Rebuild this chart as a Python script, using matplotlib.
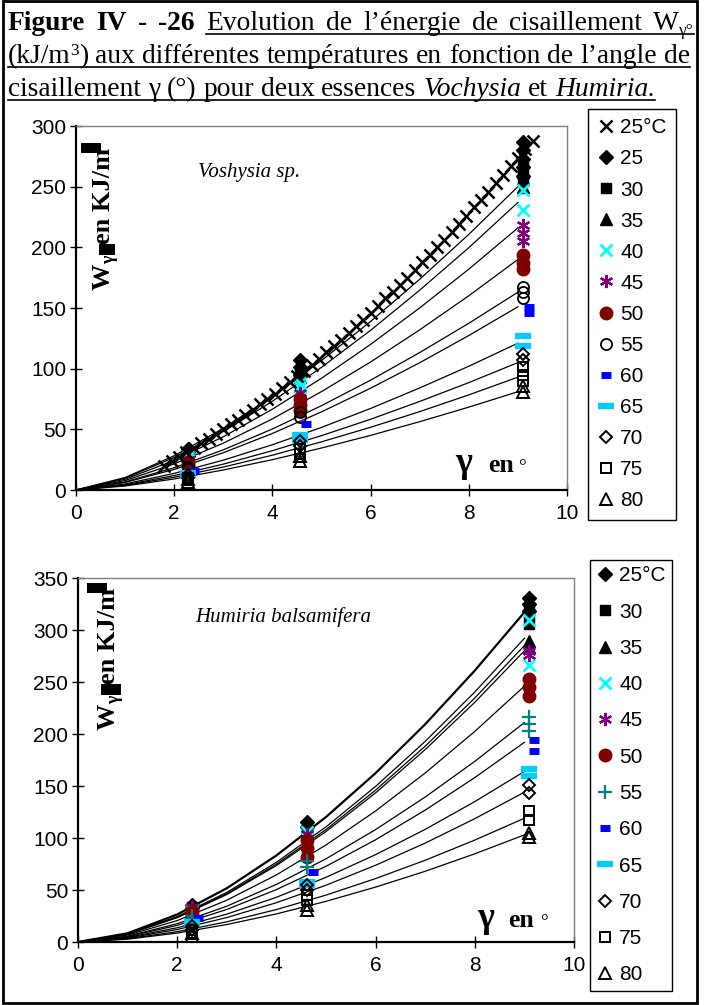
import matplotlib
matplotlib.use('Agg')
import matplotlib.pyplot as plt
from matplotlib.lines import Line2D
from matplotlib.patches import Rectangle

plt.rcParams['font.family'] = ['Liberation Sans', 'DejaVu Sans']
SERIF = ['Liberation Serif', 'DejaVu Serif']

W_PX, H_PX = 707, 1005

# ---------------- data ----------------
# Voshysia sp. : dense 25 C run drawn with x markers
vos_run_g = [1.8, 1.95, 2.1, 2.25, 2.4, 2.55, 2.7, 2.85, 3.0, 3.15,
             3.3, 3.45, 3.6, 3.75, 3.9, 4.05, 4.2, 4.35, 4.5, 4.65,
             4.8, 4.95, 5.1, 5.25, 5.4, 5.55, 5.7, 5.85, 6.0, 6.15,
             6.3, 6.45, 6.6, 6.75, 6.9, 7.05, 7.2, 7.35, 7.5, 7.65,
             7.8, 7.95, 8.1, 8.25, 8.4, 8.55, 8.7, 8.85, 9.0, 9.15, 9.3]
vos_run_w = [20, 24, 27, 31, 35, 39, 42, 46, 50, 54,
             58, 62, 66, 71, 75, 79, 84, 89, 94, 98,
             103, 108, 114, 119, 124, 129, 135, 140, 146, 152,
             158, 163, 169, 175, 181, 188, 194, 200, 206, 213,
             219, 226, 233, 239, 246, 253, 260, 267, 274, 281, 288]

# replicate points at the three shear angles (one list per angle)
vos_g = [2.28, 4.56, 9.1]
vos_g60 = [2.4, 4.68, 9.22]
vos_25 = [[34, 31, 28], [107, 101, 95], [287, 280, 273, 266, 259]]
vos_30 = [[30, 27], [97, 92], [268, 262, 255]]
vos_35 = [[29, 26], [98, 93], [262, 256, 250]]
vos_40 = [[27, 25], [88, 85], [247, 231]]
vos_45 = [[25, 23], [80, 76], [218, 212, 205]]
vos_50 = [[23, 21, 19], [75, 70, 66], [194, 187, 182]]
vos_55 = [[19, 17], [64, 60], [167, 163, 158]]
vos_60 = [[16], [54], [151, 146]]
vos_65 = [[14, 12], [45, 41], [127, 119]]
vos_70 = [[12, 10], [40, 36], [112, 107]]
vos_75 = [[10, 8], [34, 30], [101, 95, 90]]
vos_80 = [[9, 7], [28, 24], [86, 81]]

hum_g = [2.3, 4.62, 9.1]
hum_g60 = [2.42, 4.74, 9.2]
hum_25 = [[36, 33], [115, 111], [331, 325, 318]]
hum_30 = [[34, 31], [112, 107], [322, 314, 306]]
hum_35 = [[33, 30], [109, 104], [289, 284]]
hum_40 = [[31, 28], [106, 100], [310, 266]]
hum_45 = [[34, 30], [104, 99], [280, 276]]
hum_50 = [[30, 27, 24], [98, 90, 82], [253, 245, 237]]
hum_55 = [[25, 22], [78, 72], [216, 210, 203]]
hum_60 = [[23], [67], [194, 184]]
hum_65 = [[19, 17], [58, 55], [166, 160]]
hum_70 = [[15, 12], [55, 50], [151, 143]]
hum_75 = [[12, 9], [45, 40], [126, 117]]
hum_80 = [[9, 6], [36, 31], [105, 101]]

# fitted curves (thin black lines), value at gamma = 0..9
fit_g = [0, 1, 2, 3, 4, 5, 6, 7, 8, 9]
vos_fits = [
    [0, 10.3, 28.2, 50.8, 77.1, 106.7, 138.9, 173.7, 210.7, 250],
    [0, 9.8, 26.8, 48.2, 73.1, 101.1, 131.6, 164.7, 199.7, 237],
    [0, 8.9, 24.4, 43.9, 66.6, 92.1, 120.0, 150.1, 182.0, 216],
    [0, 7.8, 21.5, 38.6, 58.6, 81.1, 105.5, 132.0, 160.1, 190],
    [0, 6.7, 18.4, 33.1, 50.3, 69.5, 90.5, 113.3, 137.4, 163],
    [0, 6.2, 17.0, 30.7, 46.6, 64.4, 83.9, 104.9, 127.3, 151],
    [0, 5.0, 13.7, 24.6, 37.3, 51.6, 67.2, 84.1, 102.0, 121],
    [0, 4.3, 11.9, 21.3, 32.4, 44.8, 58.3, 73.0, 88.5, 105],
    [0, 3.8, 10.5, 18.9, 28.7, 39.7, 51.7, 64.6, 78.4, 93],
    [0, 3.3, 9.1, 16.5, 25.0, 34.6, 45.0, 56.3, 68.3, 81],
]
hum_fits = [
    [0, 8.4, 26.5, 51.7, 83.2, 120.2, 162.4, 209.4, 261.0, 317],
    [0, 7.8, 24.4, 47.7, 76.6, 110.7, 149.6, 192.9, 240.4, 292],
    [0, 7.6, 23.8, 46.5, 74.8, 108.1, 146.0, 188.3, 234.6, 285],
    [0, 7.5, 23.4, 45.7, 73.5, 106.2, 143.4, 185.0, 230.5, 280],
    [0, 6.6, 20.6, 40.2, 64.5, 93.3, 126.0, 162.5, 202.5, 246],
    [0, 5.6, 17.6, 34.4, 55.4, 80.0, 108.1, 139.4, 173.7, 211],
    [0, 5.1, 16.0, 31.3, 50.4, 72.8, 98.3, 126.8, 158.1, 192],
    [0, 4.4, 13.7, 26.8, 43.0, 62.2, 84.0, 108.3, 135.0, 164],
    [0, 3.8, 12.0, 23.5, 37.8, 54.6, 73.8, 95.1, 118.6, 144],
    [0, 3.2, 9.9, 19.4, 31.2, 45.1, 61.0, 78.6, 98.0, 119],
    [0, 2.7, 8.6, 16.8, 27.0, 39.1, 52.8, 68.0, 84.8, 103],
]

vos_labels = ['25°C', '25', '30', '35', '40', '45', '50', '55', '60', '65', '70', '75', '80']
hum_labels = ['25°C', '30', '35', '40', '45', '50', '55', '60', '65', '70', '75', '80']

# ---------------- marker styles ----------------
st = {
    'run': dict(marker='x', color='black', ms=8.5, mew=1.8),
    '25': dict(marker='D', color='black', ms=7),
    '30': dict(marker='s', color='black', ms=7),
    '35': dict(marker='^', color='black', ms=8),
    '40': dict(marker='x', color='#00FFFF', ms=9, mew=2),
    '45': dict(marker=(6, 2, 0), color='#800080', ms=9.5, mew=1.6),
    '50': dict(marker='o', color='#800000', ms=9),
    '55o': dict(marker='o', mfc='none', mec='black', ms=8, mew=1.3),
    '55+': dict(marker='+', color='#008080', ms=10, mew=1.6),
    '60': dict(marker='_', color='#0000FF', ms=7, mew=5),
    '65': dict(marker='_', color='#00CCFF', ms=12, mew=4.5),
    '70': dict(marker='D', mfc='none', mec='black', ms=6.5, mew=1.4),
    '75': dict(marker='s', mfc='none', mec='black', ms=7.5, mew=1.4),
    '80': dict(marker='^', mfc='none', mec='black', ms=8, mew=1.4),
}


def fx(x):
    return x / W_PX


def fy(y):
    return 1 - y / H_PX


fig = plt.figure(figsize=(W_PX / 100, H_PX / 100), dpi=100)
renderer = fig.canvas.get_renderer()


def measure(s, **kw):
    t = fig.text(0, 0, s, **kw)
    w = t.get_window_extent(renderer).width
    t.remove()
    return w


def plot_pts(ax, gam, vals, style):
    xs, ys = [], []
    for g, vv in zip(gam, vals):
        xs += [g] * len(vv)
        ys += vv
    ax.plot(xs, ys, linestyle='none', zorder=3, **style)


def style_axes(ax, ymax):
    ax.set_xlim(0, 10)
    ax.set_ylim(0, ymax)
    ax.set_xticks(range(0, 11, 2))
    ax.set_yticks(range(0, ymax + 1, 50))
    for s in ['top', 'right']:
        ax.spines[s].set_color('#808080')
        ax.spines[s].set_linewidth(1)
    for s in ['left', 'bottom']:
        ax.spines[s].set_color('black')
        ax.spines[s].set_linewidth(1.6)
    ax.tick_params(direction='inout', length=8, width=1, labelsize=15)
    ax.tick_params(axis='x', pad=6)
    ax.tick_params(axis='y', pad=3)


def gamma_note(ax, xg, xe, xd, yb):
    ax.text(xg, yb, 'γ', transform=ax.transAxes, family=SERIF, weight='bold', size=26,
            ha='left', va='baseline')
    ax.text(xe, yb, 'en', transform=ax.transAxes, family=SERIF, weight='bold', size=18.5,
            ha='left', va='baseline')
    ax.text(xd, yb, '°', transform=ax.transAxes, family=SERIF, size=14,
            ha='left', va='baseline')


def wlabel(bx, by, box_a, box_b):
    kw = dict(family=SERIF, weight='bold', rotation=90, rotation_mode='anchor',
              ha='left', va='baseline')
    mk = dict(family=SERIF, weight='bold')
    y = by
    fig.text(fx(bx), fy(y), 'W', size=19, **kw)
    y -= measure('W', size=19, **mk)
    fig.text(fx(bx + 4), fy(y), 'γ', size=13, **kw)
    y -= measure('γ', size=13, **mk)
    fig.add_artist(Rectangle((fx(bx + box_b[0]), fy(y)), box_b[1] / W_PX, 11 / H_PX,
                             transform=fig.transFigure, color='black', lw=0))
    y -= 11
    fig.text(fx(bx), fy(y), 'en KJ/m', size=19, **kw)
    y -= measure('en KJ/m', size=19, **mk)
    fig.add_artist(Rectangle((fx(bx + box_a[0]), fy(y + 5)), box_a[1] / W_PX, 10 / H_PX,
                             transform=fig.transFigure, color='black', lw=0))


def add_legend(handles, labels, x, y, spacing, pad):
    leg = fig.legend(handles, labels, loc='upper left', bbox_to_anchor=(fx(x), fy(y)),
                     bbox_transform=fig.transFigure, borderaxespad=0, frameon=True,
                     fancybox=False, edgecolor='black', framealpha=1, fontsize=15,
                     handlelength=0.85, handletextpad=0.25, labelspacing=spacing,
                     borderpad=pad, numpoints=1)
    leg.get_frame().set_linewidth(1)


# ---------------- top chart : Voshysia ----------------
ax1 = fig.add_axes([fx(76), fy(490), fx(567 - 76), (490 - 126) / H_PX])
for vals in vos_fits:
    ax1.plot(fit_g, vals, color='black', lw=0.9, zorder=2)
vos_sets = [('25', vos_25, vos_g), ('30', vos_30, vos_g), ('35', vos_35, vos_g),
            ('40', vos_40, vos_g), ('45', vos_45, vos_g), ('50', vos_50, vos_g),
            ('55o', vos_55, vos_g), ('60', vos_60, vos_g60), ('65', vos_65, vos_g),
            ('70', vos_70, vos_g), ('75', vos_75, vos_g), ('80', vos_80, vos_g)]
for key, vals, gam in vos_sets:
    plot_pts(ax1, gam, vals, st[key])
ax1.plot(vos_run_g, vos_run_w, linestyle='none', zorder=4, **st['run'])
style_axes(ax1, 300)
ax1.text(0.248, 0.86, 'Voshysia sp.', transform=ax1.transAxes, family=SERIF,
         style='italic', size=15, ha='left', va='baseline')
gamma_note(ax1, 0.772, 0.839, 0.900, 0.049)
wlabel(110, 290, (-29, 20), (-11, 16))
h1 = [Line2D([], [], linestyle='none', **st['run'])] + \
     [Line2D([], [], linestyle='none', **st[k]) for k, _, _ in vos_sets]
add_legend(h1, vos_labels, 588, 109, 0.58, 0.45)

# ---------------- bottom chart : Humiria ----------------
ax2 = fig.add_axes([fx(78), fy(942), fx(574 - 78), (942 - 578) / H_PX])
for i, vals in enumerate(hum_fits):
    ax2.plot(fit_g, vals, color='black', lw=1.6 if i == 0 else 0.9, zorder=2)
hum_sets = [('25', hum_25, hum_g), ('30', hum_30, hum_g), ('35', hum_35, hum_g),
            ('40', hum_40, hum_g), ('45', hum_45, hum_g), ('50', hum_50, hum_g),
            ('55+', hum_55, hum_g), ('60', hum_60, hum_g60), ('65', hum_65, hum_g),
            ('70', hum_70, hum_g), ('75', hum_75, hum_g), ('80', hum_80, hum_g)]
for key, vals, gam in hum_sets:
    plot_pts(ax2, gam, vals, st[key])
style_axes(ax2, 350)
ax2.text(0.236, 0.879, 'Humiria balsamifera', transform=ax2.transAxes, family=SERIF,
         style='italic', size=15, ha='left', va='baseline')
gamma_note(ax2, 0.804, 0.867, 0.931, 0.041)
wlabel(115, 730, (-28, 20), (-14, 20))
h2 = [Line2D([], [], linestyle='none', **st[k]) for k, _, _ in hum_sets]
add_legend(h2, hum_labels, 590, 560, 0.83, 0.3)

# ---------------- title block ----------------
T = 19.8
line1 = [('Figure', 'bold', 'normal', T, 0, False, False),
         ('IV', 'bold', 'normal', T, 0, False, False),
         ('-', 'bold', 'normal', T, 0, False, False),
         ('-26', 'bold', 'normal', T, 0, False, False),
         ('Evolution', 'normal', 'normal', T, 0, True, False),
         ('de', 'normal', 'normal', T, 0, True, False),
         ('l’énergie', 'normal', 'normal', T, 0, True, False),
         ('de', 'normal', 'normal', T, 0, True, False),
         ('cisaillement', 'normal', 'normal', T, 0, True, False),
         ('W', 'normal', 'normal', T, 0, True, False),
         ('γ°', 'normal', 'normal', 12.5, 5, True, True)]
line2 = [('(kJ/m', 'normal', 'normal', T, 0, True, False),
         ('3', 'normal', 'normal', 12.5, -8, True, True),
         (')', 'normal', 'normal', T, 0, True, True)] + \
        [(w, 'normal', 'normal', T, 0, True, False) for w in
         'aux différentes températures en fonction de l’angle de'.split()]
line3 = [(w, 'normal', 'normal', T, 0, True, False) for w in
         'cisaillement γ (°) pour deux essences'.split()] + \
        [('Vochysia', 'normal', 'italic', T, 0, True, False),
         ('et', 'normal', 'normal', T, 0, True, False),
         ('Humiria.', 'normal', 'italic', T, 0, True, False)]

space_w = measure('n n', family=SERIF, size=T) - measure('nn', family=SERIF, size=T)


def lay_line(tokens, x0, base, x1=None):
    widths = [measure(t[0], family=SERIF, weight=t[1], style=t[2], size=t[3]) for t in tokens]
    n_gaps = sum(1 for t in tokens[1:] if not t[6])
    gap = space_w if x1 is None else max(space_w * 0.8, (x1 - x0 - sum(widths)) / n_gaps)
    x = x0
    u0 = u1 = None
    for i, (tok, w) in enumerate(zip(tokens, widths)):
        if i > 0 and not tok[6]:
            x += gap
        fig.text(fx(x), fy(base + tok[4]), tok[0], family=SERIF, weight=tok[1],
                 style=tok[2], size=tok[3], ha='left', va='baseline')
        if tok[5]:
            if u0 is None:
                u0 = x
            u1 = x + w
        x += w
    if u0 is not None:
        fig.add_artist(Line2D([fx(u0), fx(u1)], [fy(base + 4)] * 2, color='black',
                              lw=1.2, transform=fig.transFigure))


lay_line(line1, 8, 30, 694)
lay_line(line2, 8, 63, 690)
lay_line(line3, 8, 96)

# outer frame of the figure cell
fig.add_artist(Rectangle((fx(3), fy(1003)), fx(697 - 3), (1003 - 1) / H_PX,
                         transform=fig.transFigure, fill=False, edgecolor='black', lw=2))

fig.savefig('out.png', dpi=100)
